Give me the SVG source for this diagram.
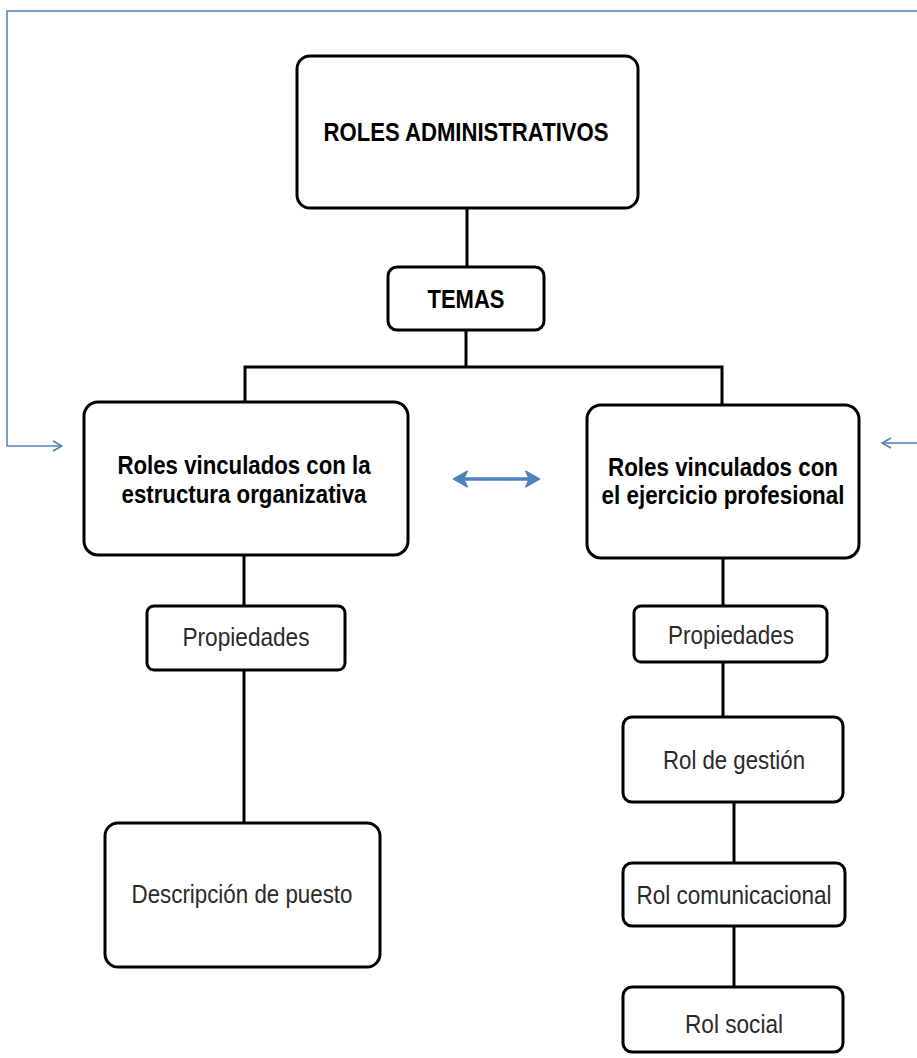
<svg xmlns="http://www.w3.org/2000/svg" width="917" height="1058" viewBox="0 0 917 1058">
<style>
.box{fill:#fff;stroke:#000;stroke-width:3}
.bold{font-family:"Liberation Sans",Arial,sans-serif;font-weight:bold;font-size:26px;fill:#000;text-anchor:middle}
.reg{font-family:"Liberation Sans",Arial,sans-serif;font-size:26px;fill:#2a2a2a;text-anchor:middle}
.conn{stroke:#000;stroke-width:3;fill:none}
.blue{stroke:#4f81bd;stroke-width:1.5;fill:none}
</style>
<defs>
<marker id="open" viewBox="0 0 12 12" refX="11" refY="6" markerWidth="12" markerHeight="12" markerUnits="userSpaceOnUse" orient="auto">
<path d="M2,1 L11,6 L2,11" fill="none" stroke="#4f81bd" stroke-width="1.5"/>
</marker>
<marker id="thick" viewBox="0 0 10 10" refX="8" refY="5" markerWidth="5" markerHeight="5" orient="auto-start-reverse">
<path d="M1,0.5 L9,5 L1,9.5 L3,5 Z" fill="#4f81bd" stroke="#4f81bd" stroke-width="0.8" stroke-linejoin="round"/>
</marker>
</defs>
<g id="connectors">
<line class="conn" x1="467" y1="208" x2="467" y2="267"/>
<line class="conn" x1="466" y1="330" x2="466" y2="367"/>
<polyline class="conn" points="245,404 245,367 722,367 722,405"/>
<line class="conn" x1="244" y1="555" x2="244" y2="606"/>
<line class="conn" x1="244" y1="670" x2="244" y2="823"/>
<line class="conn" x1="723" y1="558" x2="723" y2="606"/>
<line class="conn" x1="723" y1="662" x2="723" y2="717"/>
<line class="conn" x1="734" y1="802" x2="734" y2="863"/>
<line class="conn" x1="734" y1="926" x2="734" y2="987"/>
<polyline class="blue" points="917,11 7,11 7,446 62,446" marker-end="url(#open)"/>
<line class="blue" x1="917" y1="443" x2="882" y2="443" marker-end="url(#open)"/>
<line x1="455" y1="479" x2="538" y2="479" stroke="#4f81bd" stroke-width="3.5" marker-start="url(#thick)" marker-end="url(#thick)"/>
</g>
<g id="n-roles-admin">
<rect class="box" x="297" y="56" width="341" height="152" rx="13"/>
<text class="bold" x="466" y="141" textLength="285" lengthAdjust="spacingAndGlyphs">ROLES ADMINISTRATIVOS</text>
</g>
<g id="n-temas">
<rect class="box" x="388" y="267" width="156" height="63" rx="9"/>
<text class="bold" x="466" y="308" textLength="77" lengthAdjust="spacingAndGlyphs">TEMAS</text>
</g>
<g id="n-estructura">
<rect class="box" x="84" y="402" width="324" height="153" rx="14"/>
<text class="bold" x="244" y="474" textLength="253" lengthAdjust="spacingAndGlyphs">Roles vinculados con la</text>
<text class="bold" x="244" y="503" textLength="245" lengthAdjust="spacingAndGlyphs">estructura organizativa</text>
</g>
<g id="n-ejercicio">
<rect class="box" x="587" y="405" width="272" height="153" rx="14"/>
<text class="bold" x="723" y="476" textLength="230" lengthAdjust="spacingAndGlyphs">Roles vinculados con</text>
<text class="bold" x="723" y="504" textLength="243" lengthAdjust="spacingAndGlyphs">el ejercicio profesional</text>
</g>
<g id="n-prop-left">
<rect class="box" x="147" y="606" width="198" height="64" rx="7"/>
<text class="reg" x="246" y="646" textLength="127" lengthAdjust="spacingAndGlyphs">Propiedades</text>
</g>
<g id="n-descripcion">
<rect class="box" x="105" y="823" width="275" height="144" rx="13"/>
<text class="reg" x="242" y="903" textLength="221" lengthAdjust="spacingAndGlyphs">Descripción de puesto</text>
</g>
<g id="n-prop-right">
<rect class="box" x="634" y="606" width="193" height="56" rx="7"/>
<text class="reg" x="731" y="644" textLength="126" lengthAdjust="spacingAndGlyphs">Propiedades</text>
</g>
<g id="n-gestion">
<rect class="box" x="623" y="717" width="220" height="85" rx="9"/>
<text class="reg" x="734" y="769" textLength="142" lengthAdjust="spacingAndGlyphs">Rol de gestión</text>
</g>
<g id="n-comunicacional">
<rect class="box" x="623" y="863" width="222" height="63" rx="9"/>
<text class="reg" x="734" y="904" textLength="195" lengthAdjust="spacingAndGlyphs">Rol comunicacional</text>
</g>
<g id="n-social">
<rect class="box" x="623" y="987" width="220" height="65" rx="9"/>
<text class="reg" x="734" y="1033" textLength="98" lengthAdjust="spacingAndGlyphs">Rol social</text>
</g>
</svg>
